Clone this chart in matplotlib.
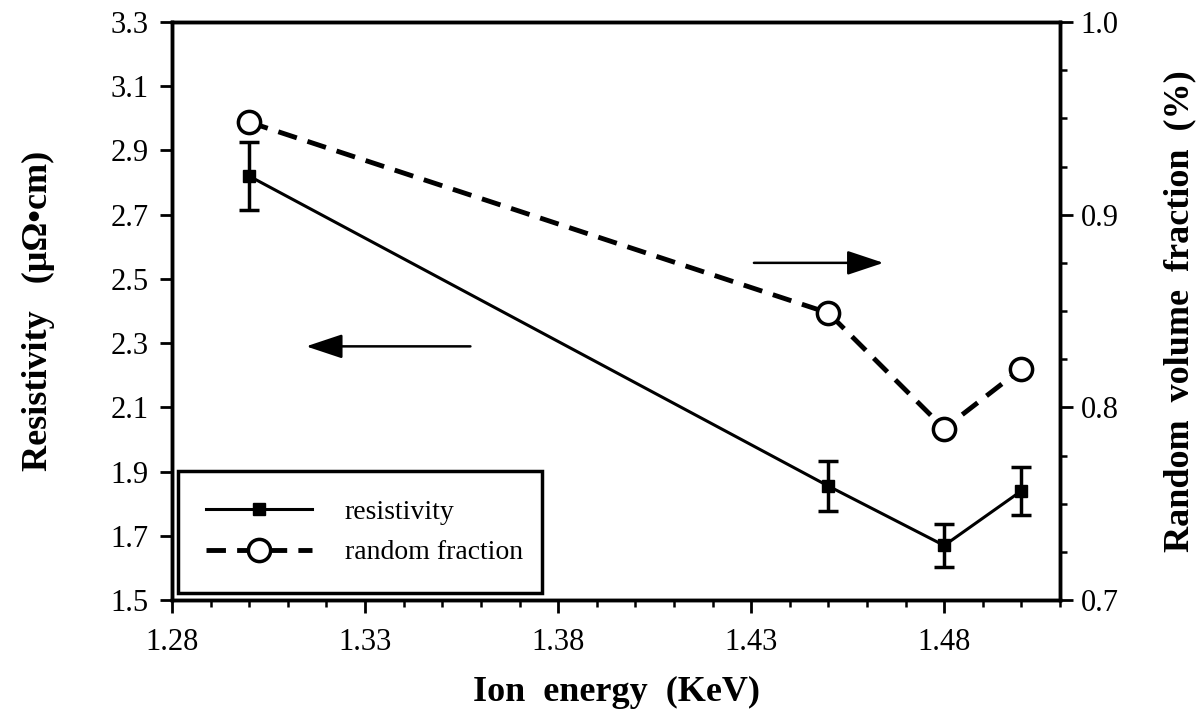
import matplotlib
matplotlib.use('Agg')
import matplotlib.pyplot as plt
import matplotlib.ticker as ticker

# values
energy = [1.30, 1.45, 1.48, 1.50]
resistivity = [2.82, 1.855, 1.67, 1.84]
res_err = [0.105, 0.077, 0.067, 0.075]
fraction = [0.948, 0.849, 0.789, 0.82]

x_major = [1.28, 1.33, 1.38, 1.43, 1.48]
y_left = [1.5, 1.7, 1.9, 2.1, 2.3, 2.5, 2.7, 2.9, 3.1, 3.3]
y_right = [0.7, 0.8, 0.9, 1.0]

plt.rcParams['font.family'] = ['Liberation Serif', 'DejaVu Serif']
plt.rcParams['font.size'] = 20

fig = plt.figure(figsize=(12.04, 7.23), dpi=100)
ax = fig.add_axes([0.1429, 0.170, 0.7375, 0.7996])
ax2 = ax.twinx()

# resistivity
ax.errorbar(energy, resistivity, yerr=res_err, fmt='none', ecolor='black',
            elinewidth=2.5, capsize=7, capthick=2.5)
l1, = ax.plot(energy, resistivity, '-', color='black', lw=2.2, marker='s',
              markersize=9, label='resistivity')

# random fraction
l2, = ax2.plot(energy, fraction, color='black', lw=3.5, dashes=(4, 2.3),
               marker='o', markersize=16, markerfacecolor='white',
               markeredgewidth=2.5, label='random fraction')

ax.set_xlim(1.28, 1.51)
ax.set_ylim(1.5, 3.3)
ax2.set_ylim(0.7, 1.0)

ax.xaxis.set_major_locator(ticker.FixedLocator(x_major))
ax.xaxis.set_minor_locator(ticker.MultipleLocator(0.01))
ax.xaxis.set_major_formatter(ticker.FormatStrFormatter('%.2f'))
ax.yaxis.set_major_locator(ticker.FixedLocator(y_left))
ax.yaxis.set_major_formatter(ticker.FormatStrFormatter('%.1f'))
ax2.yaxis.set_major_locator(ticker.FixedLocator(y_right))
ax2.yaxis.set_minor_locator(ticker.MultipleLocator(0.025))
ax2.yaxis.set_major_formatter(ticker.FormatStrFormatter('%.1f'))

for a in (ax, ax2):
    for s in a.spines.values():
        s.set_linewidth(2.5)
    a.tick_params(which='major', direction='out', length=9, width=2,
                  labelsize=22)
    a.tick_params(which='minor', direction='out', length=5, width=1.8)
ax.tick_params(axis='x', which='major', pad=11)
ax.tick_params(axis='y', which='major', pad=8)
ax2.tick_params(axis='y', which='major', pad=6)

ax.set_xlabel('Ion  energy  (KeV)', fontsize=26, fontweight='bold', labelpad=14)
ax.set_ylabel('Resistivity   (\u00b5\u03a9\u2022cm)', fontsize=26,
              fontweight='bold', labelpad=40)
ax2.set_ylabel('Random  volume  fraction  (%)', fontsize=26, fontweight='bold',
               labelpad=32)

# direction arrows
ax.annotate('', xy=(1.314, 2.29), xytext=(1.358, 2.29),
            arrowprops=dict(arrowstyle='-|>,head_length=0.9,head_width=0.3',
                            lw=1.8, color='black', mutation_scale=25))
ax.annotate('', xy=(1.465, 2.55), xytext=(1.43, 2.55),
            arrowprops=dict(arrowstyle='-|>,head_length=0.9,head_width=0.3',
                            lw=1.8, color='black', mutation_scale=25))

leg = ax2.legend(handles=[l1, l2], loc='lower left',
                 bbox_to_anchor=(0.007, 0.012, 0.41, 0.208), mode='expand',
                 fancybox=False, edgecolor='black', framealpha=1,
                 fontsize=20, handlelength=3.8, handletextpad=1.2,
                 borderpad=1.0, labelspacing=0.55, borderaxespad=0)
leg.get_frame().set_linewidth(2.5)

fig.savefig('out.png', dpi=100)
